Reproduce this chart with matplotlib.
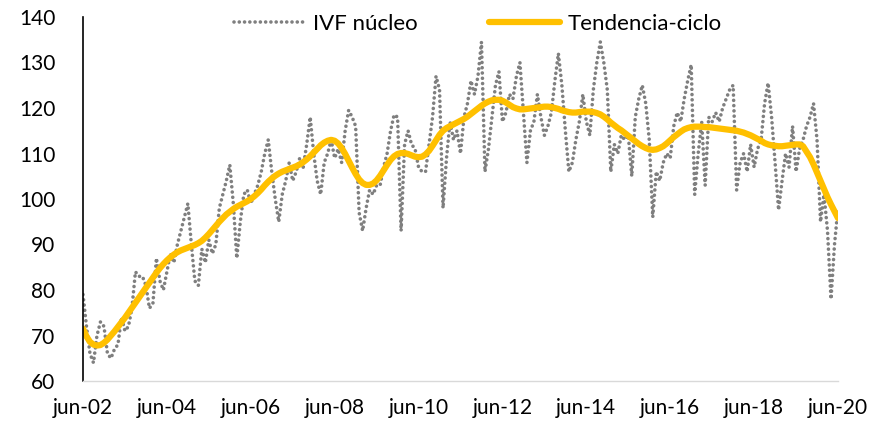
import matplotlib
matplotlib.use("Agg")
import matplotlib.pyplot as plt
import numpy as np

plt.rcParams["font.family"] = ["Lato", "DejaVu Sans"]

# monthly data, jun-2002 .. jun-2020
ivf_nucleo = [
    79, 72, 66, 64, 70, 73, 72,                                   # 2002 (jun-dic)
    66, 65, 67, 68, 74, 71, 72, 76, 84, 83, 83, 81,               # 2003
    76, 77, 87, 82, 80, 84, 88, 86, 90, 93, 96, 99,               # 2004
    90, 82, 81, 89, 86, 91, 88, 90, 98, 101, 104, 107.5,          # 2005
    99, 87, 95, 101, 102, 99, 101, 103, 106, 110, 113, 106,       # 2006
    100, 95, 101, 104, 108, 104, 106, 109, 107, 112, 118, 110,    # 2007
    104, 101, 108, 110, 113, 109, 111, 108, 115, 119.5, 118, 116, # 2008
    97, 93, 98, 102, 101, 103, 103, 107, 110, 115, 118.5, 118,    # 2009
    93, 112, 115, 112, 111, 107, 106, 106, 112, 118, 127, 124,    # 2010
    98, 109, 117, 113, 115, 110, 118, 121, 126, 123, 127, 134.5,  # 2011
    106, 111, 118, 125, 128, 117, 119, 123, 122, 127, 130, 119,   # 2012
    108, 115, 117, 123, 118, 114, 116, 119, 126, 132, 125, 115,   # 2013
    106, 108, 113, 117, 123, 117, 114, 124, 130, 134.5, 130, 124, # 2014
    106, 112, 110, 114, 113, 114, 105, 118, 122, 125, 121, 113,   # 2015
    96, 106, 104, 108, 110, 109, 116, 119, 117, 122, 126, 129.5,  # 2016
    101, 110, 117, 103, 118, 117, 119, 117, 120, 122, 124, 125,   # 2017
    102, 108, 110, 106, 112, 107, 111, 113, 121, 125.5, 118, 108, # 2018
    97.6, 104, 110, 107, 116, 106, 111, 113, 116, 118, 121, 113,  # 2019
    95, 101, 93, 78, 90, 98,                                      # 2020 (ene-jun)
]

tendencia_ciclo = [
    71.5, 69.8, 68.6, 68.0, 67.8, 67.9, 68.4,
    69.1, 70.0, 70.9, 71.9, 72.9, 73.9, 75.0, 76.1, 77.2, 78.3, 79.4, 80.5,
    81.6, 82.7, 83.8, 84.8, 85.7, 86.5, 87.2, 87.8, 88.3, 88.7, 89.0, 89.3,
    89.6, 89.9, 90.3, 90.8, 91.5, 92.3, 93.2, 94.1, 95.0, 95.8, 96.6, 97.2,
    97.8, 98.3, 98.7, 99.1, 99.5, 100.0, 100.6, 101.3, 102.1, 103.0, 103.8, 104.5,
    105.1, 105.6, 106.0, 106.3, 106.6, 106.9, 107.2, 107.6, 108.1, 108.7, 109.4, 110.2,
    111.0, 111.8, 112.4, 112.8, 113.0, 112.8, 112.2, 111.2, 109.9, 108.4, 106.9, 105.5,
    104.3, 103.5, 103.1, 103.1, 103.4, 104.1, 105.1, 106.3, 107.5, 108.6, 109.4, 109.9,
    110.1, 110.1, 109.9, 109.6, 109.3, 109.2, 109.3, 109.8, 110.6, 111.7, 112.9, 114.1,
    115.0, 115.6, 116.0, 116.4, 116.8, 117.2, 117.6, 118.1, 118.7, 119.3, 119.9, 120.5,
    121.0, 121.4, 121.7, 121.8, 121.8, 121.6, 121.2, 120.7, 120.2, 119.9, 119.7, 119.7,
    119.8, 119.9, 120.0, 120.1, 120.2, 120.3, 120.3, 120.2, 120.0, 119.8, 119.5, 119.3,
    119.1, 119.0, 119.0, 119.1, 119.2, 119.2, 119.2, 119.1, 118.9, 118.6, 118.1, 117.5,
    116.8, 116.2, 115.6, 115.1, 114.5, 113.9, 113.3, 112.7, 112.1, 111.6, 111.2, 110.9,
    110.8, 110.9, 111.2, 111.6, 112.2, 112.9, 113.6, 114.2, 114.8, 115.3, 115.6, 115.8,
    115.9, 115.9, 115.9, 115.8, 115.8, 115.7, 115.6, 115.5, 115.4, 115.3, 115.2, 115.1,
    115.0, 114.8, 114.6, 114.3, 114.0, 113.6, 113.2, 112.8, 112.3, 112.0, 111.8, 111.7,
    111.6, 111.6, 111.7, 111.8, 111.9, 112.0, 112.0, 111.6, 110.4, 109.2, 107.6, 105.8,
    104.0, 102.2, 100.4, 98.8, 97.3, 95.8,
]

tick_labels = ["jun-02", "jun-04", "jun-06", "jun-08", "jun-10",
               "jun-12", "jun-14", "jun-16", "jun-18", "jun-20"]

months = np.arange(len(ivf_nucleo))

fig = plt.figure(figsize=(8.9, 4.29), dpi=100)
ax = fig.add_axes([83 / 890, 1 - 381 / 429, (838 - 83) / 890, (381 - 17) / 429])

ax.plot(months, ivf_nucleo, color="#7f7f7f", linewidth=2.6,
        linestyle=(0, (0.01, 1.45)), dash_capstyle="round", label="IVF núcleo")
ax.plot(months, tendencia_ciclo, color="#ffc000", linewidth=4.5,
        solid_capstyle="round", label="Tendencia-ciclo")

ax.set_xlim(0, len(months) - 1)
ax.set_ylim(60, 140)
ax.set_yticks(range(60, 141, 10))
ax.set_xticks(np.arange(0, len(months), 24))
ax.set_xticklabels(tick_labels)

for s in ["top", "right"]:
    ax.spines[s].set_visible(False)
ax.spines["left"].set_color("black")
ax.spines["left"].set_linewidth(1.2)
ax.spines["bottom"].set_color("#d9d9d9")
ax.spines["bottom"].set_linewidth(1.0)
ax.tick_params(axis="y", length=0, pad=20, labelsize=15)
ax.tick_params(axis="x", length=0, pad=12, labelsize=15)

fig.legend(loc="upper center", bbox_to_anchor=(0.537, 1.015), ncol=2,
           frameon=False, fontsize=16, handlelength=3.2, columnspacing=3.2,
           handletextpad=0.35)

fig.savefig("out.png", dpi=100)
